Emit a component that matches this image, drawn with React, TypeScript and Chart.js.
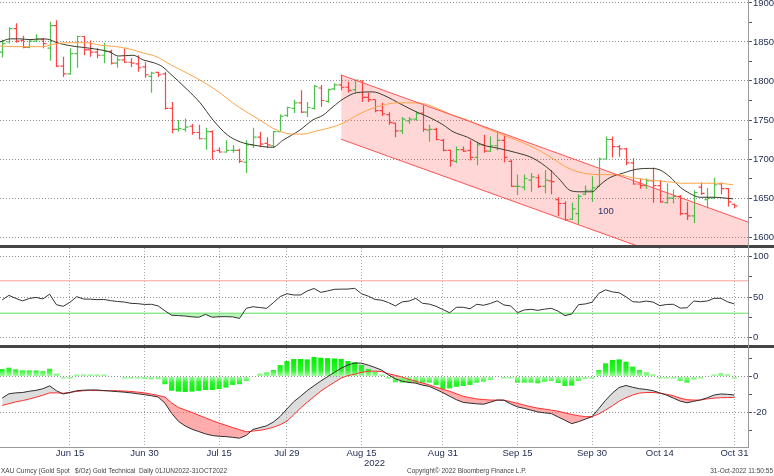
import React, { useEffect, useRef } from 'react';
import { Chart, registerables } from 'chart.js';
Chart.register(...registerables);

// x = weekday index, 0 = 01 Jun 2022 ... 108 = 31 Oct 2022
const tickIdx = [10, 21, 32, 42, 53, 65, 76, 87, 97, 108];
const tickLabels = ['Jun 15', 'Jun 30', 'Jul 15', 'Jul 29', 'Aug 15', 'Aug 31', 'Sep 15', 'Sep 30', 'Oct 14', 'Oct 31'];

const opens = [
  1837, 1850, 1867, 1852, 1843, 1851, 1853, 1842, 1871, 1819,
  1809, 1835, 1857, 1840, 1837, 1833, 1838, 1823, 1827, 1824,
  1822, 1818, 1806, 1811, 1809, 1765, 1738, 1738, 1742, 1734,
  1726, 1735, 1711, 1709, 1711, 1711, 1696, 1718, 1728, 1720,
  1717, 1735, 1756, 1765, 1772, 1760, 1765, 1791, 1774, 1790,
  1795, 1792, 1789, 1800, 1779, 1776, 1762, 1757, 1746, 1736,
  1749, 1751, 1759, 1737, 1738, 1724, 1711, 1697, 1712, 1711,
  1702, 1718, 1710, 1717, 1724, 1697, 1665, 1664, 1673, 1676,
  1665, 1672, 1648, 1643, 1623, 1630, 1655, 1660, 1665, 1700,
  1725, 1716, 1713, 1695, 1668, 1666, 1672, 1666, 1644, 1650,
  1652, 1630, 1627, 1664, 1648, 1650, 1668, 1662, 1642,
];
const highs = [
  1853, 1869, 1874, 1858, 1853, 1860, 1855, 1876, 1878, 1831,
  1842, 1858, 1858, 1852, 1842, 1849, 1840, 1831, 1842, 1829,
  1833, 1824, 1812, 1812, 1812, 1773, 1750, 1752, 1745, 1744,
  1740, 1737, 1715, 1724, 1718, 1713, 1724, 1740, 1735, 1728,
  1736, 1757, 1767, 1776, 1788, 1773, 1795, 1795, 1790, 1797,
  1808, 1799, 1801, 1801, 1785, 1776, 1772, 1760, 1746, 1754,
  1754, 1761, 1769, 1744, 1740, 1726, 1712, 1716, 1716, 1724,
  1722, 1731, 1729, 1735, 1731, 1699, 1680, 1680, 1682, 1680,
  1686, 1686, 1651, 1646, 1644, 1655, 1666, 1678, 1702, 1729,
  1729, 1718, 1714, 1701, 1675, 1675, 1689, 1673, 1669, 1661,
  1654, 1645, 1660, 1670, 1663, 1676, 1670, 1663, 1643,
];
const lows = [
  1830, 1848, 1849, 1842, 1842, 1850, 1842, 1826, 1818, 1805,
  1808, 1817, 1833, 1831, 1829, 1823, 1821, 1817, 1823, 1818,
  1812, 1804, 1785, 1805, 1763, 1733, 1735, 1735, 1731, 1725,
  1712, 1699, 1708, 1708, 1708, 1695, 1682, 1714, 1715, 1714,
  1714, 1735, 1754, 1759, 1759, 1754, 1763, 1767, 1772, 1788,
  1788, 1785, 1785, 1773, 1773, 1760, 1755, 1744, 1728, 1732,
  1745, 1749, 1735, 1722, 1724, 1710, 1690, 1695, 1709, 1698,
  1692, 1708, 1709, 1711, 1696, 1664, 1654, 1660, 1658, 1663,
  1656, 1655, 1627, 1621, 1622, 1616, 1654, 1645, 1664, 1700,
  1702, 1703, 1692, 1667, 1662, 1662, 1644, 1644, 1643, 1643,
  1628, 1622, 1618, 1654, 1637, 1650, 1655, 1639, 1637,
];
const closes = [
  1848, 1867, 1851, 1843, 1851, 1853, 1848, 1871, 1819, 1809,
  1835, 1857, 1840, 1837, 1833, 1838, 1823, 1827, 1824, 1823,
  1817, 1808, 1810, 1808, 1765, 1738, 1739, 1741, 1734, 1726,
  1735, 1710, 1709, 1711, 1711, 1697, 1718, 1728, 1719, 1718,
  1735, 1755, 1766, 1772, 1760, 1766, 1793, 1775, 1789, 1795,
  1792, 1788, 1801, 1779, 1776, 1762, 1758, 1747, 1736, 1751,
  1751, 1758, 1738, 1738, 1725, 1711, 1698, 1712, 1710, 1702,
  1718, 1710, 1717, 1724, 1702, 1665, 1665, 1675, 1677, 1665,
  1673, 1671, 1643, 1622, 1636, 1652, 1660, 1663, 1700, 1725,
  1716, 1713, 1695, 1668, 1666, 1672, 1666, 1645, 1650, 1652,
  1630, 1627, 1657, 1656, 1650, 1667, 1662, 1645, 1640,
];

// moving averages as [index, price]
const maFast = [
  [-0.3, 1850], [1.2, 1854], [2.6, 1854], [4.1, 1853], [5.6, 1854], [7, 1853], [7.8, 1850], [9, 1847],
  [11, 1844], [12.9, 1842], [15.9, 1837], [17.1, 1832], [19.3, 1833], [20.8, 1827], [22.5, 1823],
  [23.7, 1818], [24.7, 1810], [27.3, 1789], [29.2, 1772], [31.1, 1750], [33.2, 1731], [35.1, 1722],
  [37, 1718], [39.9, 1715], [41.4, 1724], [43.9, 1737], [45.8, 1750], [47.3, 1756], [48.8, 1767],
  [50.3, 1777], [52.3, 1785], [54.7, 1786], [56.2, 1782], [57.6, 1776], [59.1, 1769], [61.2, 1760],
  [63.1, 1753], [65, 1744], [66.5, 1735], [68.6, 1728], [70.9, 1718], [73, 1714], [75.9, 1708],
  [78.3, 1701], [80.8, 1686], [82.3, 1673], [83.7, 1660], [85.2, 1658], [87, 1658], [88.2, 1667],
  [89.6, 1676], [91.6, 1682], [93.6, 1687], [95.5, 1688], [97, 1686], [98.5, 1677], [100, 1664],
  [101.4, 1656], [102.9, 1651], [104.8, 1651], [107.8, 1649],
];
const maSlow = [
  [-0.3, 1845], [1.6, 1844], [3.7, 1844], [6, 1844], [7.5, 1847], [9.6, 1849], [12.5, 1849], [14.4, 1846],
  [16.9, 1844], [18.8, 1841], [20.8, 1836], [22.8, 1831], [24.8, 1821], [27.3, 1810], [29.6, 1799],
  [32.1, 1785], [34, 1772], [36.1, 1760], [38, 1750], [40.5, 1737], [42.9, 1732], [44.4, 1732],
  [46.4, 1736], [48.3, 1740], [50.3, 1746], [52.3, 1756], [54.3, 1764], [56.2, 1769], [58.2, 1772],
  [60.1, 1772], [62.1, 1771], [64.1, 1765], [66.5, 1756], [68.6, 1750], [70.9, 1741], [73.2, 1733],
  [75.9, 1724], [78.3, 1715], [80.8, 1703], [83.3, 1689], [85.7, 1682], [88.2, 1680], [90.7, 1680],
  [93, 1676], [95.5, 1673], [98, 1671], [100.4, 1669], [102.9, 1669], [105.4, 1669], [107.8, 1667],
];
const channelUpper = [[50, 1807.7], [110, 1619.2]];
const channelLower = [[50, 1725.3], [110, 1537.5]];

const rsi = [
  46.4, 52, 48.3, 45.2, 48.2, 49.5, 47.6, 53.5, 40.5, 38.5,
  43.5, 50.4, 47.5, 47.3, 46.7, 47, 45.5, 44.5, 43.8, 42.2,
  41.8, 40.8, 41, 39, 33, 27.5, 27, 26.5, 25.5, 25,
  28.5, 25, 25.7, 25.7, 25.5, 23.5, 36, 38, 37, 36,
  43, 50.5, 54, 52.5, 52.5, 57.5, 60.5, 55.7, 57.5, 59.5,
  59.7, 59.8, 60.7, 54, 51, 47, 46, 43, 39, 44,
  45, 48.3, 42.2, 41.2, 38.5, 34.5, 30.5, 37.3, 37.3, 35.5,
  41, 39.8, 42, 45.3, 40.2, 38.9, 30.6, 34, 34.8, 33.5,
  35, 36, 32.5, 27, 29, 40.5, 41.4, 43.5, 54.5, 58.8,
  56.3, 55.2, 50.2, 44.2, 43.6, 45, 43.7, 39.3, 40.8, 41,
  36.3, 36.7, 45, 44.2, 45.1, 48.4, 48.4, 44, 41.4,
];

const macd = [
  -12, -9.6, -9.1, -8.9, -8.2, -7.7, -6.8, -5.2, -7.9, -9.7,
  -8.9, -7.9, -7.6, -7.5, -7.5, -7.8, -8.1, -8.4, -8.7, -9.1,
  -9.6, -10.1, -10.7, -11.4, -14.8, -20.5, -24.9, -27.5, -29.3, -30.6,
  -31.9, -32.8, -33.2, -33.4, -33.8, -34.3, -32.7, -29.4, -28.4, -27.4,
  -25.3, -22.2, -18, -14, -11, -7.8, -5.1, -2.5, -0.1, 2.3,
  4.6, 6.4, 7.5, 7.4, 6.3, 5, 3.5, 0.8, -1.3, -2.6,
  -3.3, -3.7, -4.8, -5.5, -7.2, -9, -11, -12.9, -14.4, -14.8,
  -15.2, -15.4, -14.3, -13.1, -13.2, -15.2, -16.9, -17.7, -18.7, -19.7,
  -20.2, -20.6, -22.5, -24.3, -26.2, -25.1, -23.7, -22.3, -17.8, -13.2,
  -9.2, -6.1, -5, -6, -6.8, -7.2, -7.9, -9.1, -10.4, -12,
  -13.7, -14.6, -13.8, -13, -11.8, -10.3, -9.7, -9.9, -10.3,
];
const signal = [
  -16.1, -15.1, -14.1, -13.4, -12.5, -11.5, -10.4, -9.1, -9.1, -9.3,
  -8.8, -8.3, -7.9, -7.7, -7.8, -7.9, -7.9, -7.9, -8.1, -8.3,
  -8.7, -9.1, -9.8, -10.5, -11.4, -14.7, -17.2, -18.6, -20, -21.5,
  -23, -24.5, -25.9, -27.1, -28.4, -29.5, -30.7, -30.3, -29.9, -29.2,
  -28.2, -26.8, -24.8, -21.3, -17.5, -14.3, -11.2, -8.1, -5.6, -3.2,
  -0.9, 0.5, 1.3, 2.3, 2.9, 3, 2.7, 1.5, 0.7, -0.4,
  -1.6, -2.6, -3.6, -4.7, -6, -7.1, -8.2, -9.6, -11, -11.8,
  -12.5, -12.8, -13.1, -13.1, -13.1, -14, -14.9, -15.9, -16.8, -17.6,
  -18.1, -18.7, -19.3, -20.2, -21.1, -21.8, -22.3, -22.3, -20.8, -18.6,
  -16.3, -13.7, -11.8, -10.3, -9.2, -8.9, -8.9, -9.3, -9.9, -10.7,
  -12, -12.9, -13.1, -13.1, -12.4, -12, -11.8, -11.7, -11.6,
];
const hist = [
  4.2, 4.9, 4.0, 3.4, 3.4, 3.4, 3.0, 4.3, 1.6, -0.3,
  -0.4, 0.7, 0.7, 0.7, 0.3, 0.7, null, null, -0.4, -0.5,
  -0.6, -1.4, -1.6, -1.5, -4.3, -7.9, -8.4, -8.6, -8.4, -8.0,
  -7.5, -7.5, -7.0, -6.2, -4.7, -4.3, -2.5, null, 1.6, 2.3,
  3.6, 6.4, 8.6, 9.7, 9.7, 9.5, 10.8, 10.4, 10.2, 10.0,
  9.7, 8.6, 7.9, 6.4, 4.2, 2.7, 0.8, -1.2, -3.2, -3.4,
  -3.4, -3.4, -3.4, -3.4, -4.7, -6.9, -6.6, -5.7, -5.3, -4.7,
  -3.4, -2.9, -1.9, null, -0.6, -0.8, -3.4, -3.4, -3.4, -3.8,
  -2.9, -2.5, -3.6, -5.3, -5.1, -2.5, -1.4, -0.3, 3.6, 7.3,
  9.2, 9.5, 8.2, 5.5, 3.6, 2.3, 1.2, -0.5, -0.6, -1.0,
  -2.5, -3.4, -1.7, -1.0, null, 0.8, 1.8, 1.2, -0.1,
];

const priceTicks = [1600, 1625, 1650, 1675, 1700, 1725, 1750, 1775, 1800, 1825, 1850, 1875, 1900];
const rsiTicks = [0, 25, 50, 75, 100];
const macdTicks = [-30, -20, -10, 0, 10];
const rsiHigh = 70;
const rsiLow = 30;

const X_MIN = -0.32;
const X_MAX = 110;
const FONT = "'Liberation Sans', Arial, sans-serif";
const TEXT = '#1f2a50';
const GRID = '#8e8e8e';
const NONE = 'rgba(0,0,0,0)';

const pts = (arr: (number | null)[]) => arr.map((y, x) => ({ x, y }));
const pairs = (arr: number[][]) => arr.map(([x, y]) => ({ x, y }));

const ohlcPlugin = {
  id: 'ohlcBars',
  beforeDatasetsDraw(chart: any) {
    const { ctx, chartArea: a, scales } = chart;
    const xs = scales.x;
    const ys = scales.y;
    ctx.save();
    ctx.beginPath();
    ctx.rect(a.left, a.top, a.right - a.left, a.bottom - a.top);
    ctx.clip();
    ctx.lineWidth = 1.2;
    closes.forEach((c, i) => {
      const x = Math.round(xs.getPixelForValue(i)) + 0.5;
      const yo = ys.getPixelForValue(opens[i]);
      const yc = ys.getPixelForValue(c);
      ctx.strokeStyle = c >= opens[i] ? 'rgba(45,185,45,0.85)' : 'rgba(255,35,35,0.85)';
      ctx.beginPath();
      ctx.moveTo(x, ys.getPixelForValue(highs[i]));
      ctx.lineTo(x, ys.getPixelForValue(lows[i]));
      ctx.moveTo(x - 3, yo);
      ctx.lineTo(x, yo);
      ctx.moveTo(x, yc);
      ctx.lineTo(x + 3, yc);
      ctx.stroke();
    });
    ctx.restore();
  },
};

const xScale = (showLabels: boolean, showGrid: boolean) => ({
  type: 'linear',
  min: X_MIN,
  max: X_MAX,
  offset: false,
  afterBuildTicks: (s: any) => { s.ticks = tickIdx.map((value) => ({ value })); },
  afterFit: (s: any) => { s.height = showLabels ? 13 : 0; s.paddingLeft = 0; s.paddingRight = 0; },
  border: { display: false, dash: [1, 2] },
  grid: { display: showGrid, color: '#ababab', drawTicks: false, offset: false },
  ticks: {
    display: showLabels,
    callback: (v: number) => tickLabels[tickIdx.indexOf(v)] ?? '',
    color: TEXT,
    font: { family: FONT, size: 9.5 },
    padding: 1,
    autoSkip: false,
    maxRotation: 0,
  },
});

const yScale = (min: number, max: number, ticks: number[], label: (v: number) => string) => ({
  type: 'linear',
  position: 'right',
  min,
  max,
  afterBuildTicks: (s: any) => { s.ticks = ticks.map((value) => ({ value })); },
  afterFit: (s: any) => { s.width = 26; s.paddingTop = 0; s.paddingBottom = 0; },
  border: { display: false, dash: [1, 2] },
  grid: {
    color: (c: any) => (c.tick && label(c.tick.value) ? GRID : NONE),
    drawTicks: true,
    tickLength: 4,
    tickColor: '#555',
  },
  ticks: {
    callback: (v: number) => label(v),
    color: TEXT,
    font: { family: FONT, size: 9.5 },
    padding: 1,
    autoSkip: false,
  },
});

const baseOptions = (x: any, y: any, fillerTime = 'beforeDatasetDraw') => ({
  responsive: false,
  animation: false,
  events: [],
  layout: { padding: 0 },
  plugins: {
    legend: { display: false },
    tooltip: { enabled: false },
    filler: { drawTime: fillerTime },
  },
  scales: { x, y },
});

const priceConfig = () => ({
  type: 'line',
  data: {
    datasets: [
      { data: pairs(channelUpper), borderColor: '#ff5252', borderWidth: 1, pointRadius: 0, fill: '+1', backgroundColor: 'rgba(255,80,80,0.23)' },
      { data: pairs(channelLower), borderColor: '#ff5252', borderWidth: 1, pointRadius: 0, fill: false },
      { data: pairs(maSlow), borderColor: '#ffa445', borderWidth: 1, pointRadius: 0, cubicInterpolationMode: 'monotone', fill: false },
      { data: pairs(maFast), borderColor: '#3a3a2c', borderWidth: 1, pointRadius: 0, cubicInterpolationMode: 'monotone', fill: false },
    ],
  },
  options: baseOptions(
    xScale(false, false),
    yScale(1589.8, 1903.8, priceTicks, (v) => (v % 50 === 0 ? String(v) : '')),
    'beforeDatasetsDraw',
  ),
  plugins: [ohlcPlugin],
});

const rsiConfig = () => ({
  type: 'line',
  data: {
    datasets: [
      {
        data: pts(rsi), borderColor: '#333', borderWidth: 1, pointRadius: 0,
        fill: { target: { value: rsiLow }, above: NONE, below: 'rgba(120,240,120,0.5)' },
      },
      { data: [{ x: X_MIN, y: rsiHigh }, { x: X_MAX, y: rsiHigh }], borderColor: '#ff9c9c', borderWidth: 1, pointRadius: 0, fill: false },
      { data: [{ x: X_MIN, y: rsiLow }, { x: X_MAX, y: rsiLow }], borderColor: '#5ee05e', borderWidth: 1, pointRadius: 0, fill: false },
    ],
  },
  options: baseOptions(
    xScale(false, true),
    yScale(-9.26, 110.5, rsiTicks, (v) => (v % 50 === 0 ? String(v) : '')),
  ),
});

// bright green at the bar tips, paler towards the zero line
const histFill = (c: any) => {
  const { chart } = c;
  const ys = chart.scales && chart.scales.y;
  if (!chart.chartArea || !ys) return '#00ee00';
  const g = chart.ctx.createLinearGradient(0, ys.getPixelForValue(10), 0, ys.getPixelForValue(-10));
  g.addColorStop(0, '#00f000');
  g.addColorStop(0.33, '#2cf42c');
  g.addColorStop(0.5, '#aaffaa');
  g.addColorStop(0.67, '#2cf42c');
  g.addColorStop(1, '#00f000');
  return g;
};

const macdConfig = () => ({
  type: 'bar',
  data: {
    datasets: [
      {
        type: 'line', data: pts(macd), borderColor: '#2e2e2e', borderWidth: 1, pointRadius: 0, order: 1,
        fill: { target: 1, above: 'rgba(170,170,170,0.4)', below: 'rgba(255,90,90,0.5)' },
      },
      { type: 'line', data: pts(signal), borderColor: '#ff2e2e', borderWidth: 1, pointRadius: 0, order: 2, fill: false },
      { type: 'bar', data: pts(hist), backgroundColor: histFill, barPercentage: 0.76, categoryPercentage: 1, minBarLength: 2, order: 3 },
    ],
  },
  options: baseOptions(
    xScale(true, true),
    yScale(-39.17, 15.83, macdTicks, (v) => (v === 0 || v === -20 ? String(v) : '')),
    'beforeDatasetsDraw',
  ),
});

function Panel({ top, height, build }: { top: number; height: number; build: () => any }) {
  const ref = useRef<HTMLCanvasElement>(null);
  useEffect(() => {
    if (!ref.current) return;
    const chart = new Chart(ref.current, build() as any);
    return () => chart.destroy();
  }, [build]);
  return (
    <canvas
      ref={ref}
      width={774}
      height={height}
      style={{ position: 'absolute', left: 0, top, width: 774, height, display: 'block' }}
    />
  );
}

const small: React.CSSProperties = {
  position: 'absolute', fontFamily: FONT, fontSize: 6.5, color: '#444', whiteSpace: 'pre', lineHeight: '8px',
};

export default function App() {
  return (
    <div style={{ position: 'absolute', left: 0, top: 0, width: 774, height: 476, background: '#fff', overflow: 'hidden' }}>
      <Panel top={0} height={245} build={priceConfig} />
      <Panel top={248} height={97} build={rsiConfig} />
      <Panel top={348} height={112} build={macdConfig} />
      <div style={{ position: 'absolute', left: 0, top: 245, width: 774, height: 3, background: '#454545' }} />
      <div style={{ position: 'absolute', left: 0, top: 345, width: 774, height: 3, background: '#454545' }} />
      <div style={{ position: 'absolute', left: 748, top: 0, width: 1, height: 447, background: '#9a9a9a' }} />
      <div style={{ position: 'absolute', left: 0, top: 447, width: 749, height: 1, background: '#9a9a9a' }} />
      <div style={{ position: 'absolute', left: 598, top: 205, fontFamily: FONT, fontSize: 9.5, color: '#2c3566' }}>100</div>
      <div style={{ position: 'absolute', left: 364, top: 457, fontFamily: FONT, fontSize: 9.5, color: TEXT }}>2022</div>
      <div style={{ ...small, left: 1, top: 467 }}>XAU Curncy (Gold Spot   $/Oz) Gold Technical  Daily 01JUN2022-31OCT2022</div>
      <div style={{ ...small, left: 407, top: 467 }}>Copyright© 2022 Bloomberg Finance L.P.</div>
      <div style={{ ...small, right: 1, top: 467 }}>31-Oct-2022 11:50:55</div>
    </div>
  );
}
